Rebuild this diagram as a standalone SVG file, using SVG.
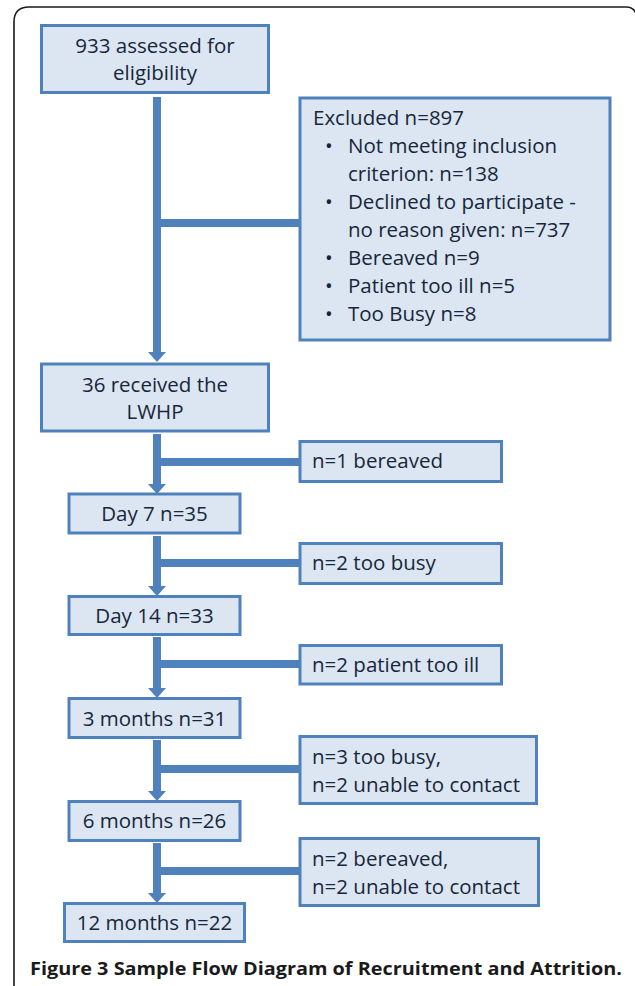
<svg xmlns="http://www.w3.org/2000/svg" width="635" height="986" viewBox="0 0 635 986">
<defs>
<style>
.box{fill:#DCE6F2;stroke:#4F81BD;stroke-width:3}
.t{font-family:"Open Sans","Liberation Sans",Arial,sans-serif;font-size:20.5px;fill:#17263A}
.c{text-anchor:middle}
.ln{stroke:#4F81BD;stroke-width:8;fill:none}
.cap{font-family:"Open Sans","Liberation Sans",Arial,sans-serif;font-size:18px;font-weight:bold;fill:#1a1a1a}
</style>
<marker id="ah" viewBox="0 0 10 18" refX="0" refY="9" markerWidth="10" markerHeight="18" orient="auto" markerUnits="userSpaceOnUse">
<path d="M0,0 L10,9 L0,18 z" fill="#4F81BD"/>
</marker>
</defs>
<rect width="635" height="986" fill="#ffffff"/>
<path d="M14,986 V22 Q14,7 29,7 H626 Q634,7 636,14" fill="none" stroke="#1a1a1a" stroke-width="1.6"/>

<g id="connectors">
<line class="ln" x1="157" y1="97" x2="157" y2="352" marker-end="url(#ah)"/>
<line class="ln" x1="157" y1="223" x2="299" y2="223"/>
<line class="ln" x1="157" y1="434" x2="157" y2="484" marker-end="url(#ah)"/>
<line class="ln" x1="157" y1="462" x2="299" y2="462"/>
<line class="ln" x1="157" y1="536" x2="157" y2="586" marker-end="url(#ah)"/>
<line class="ln" x1="157" y1="563" x2="299" y2="563"/>
<line class="ln" x1="157" y1="637" x2="157" y2="688" marker-end="url(#ah)"/>
<line class="ln" x1="157" y1="664" x2="299" y2="664"/>
<line class="ln" x1="157" y1="740" x2="157" y2="791" marker-end="url(#ah)"/>
<line class="ln" x1="157" y1="769" x2="299" y2="769"/>
<line class="ln" x1="157" y1="843" x2="157" y2="893" marker-end="url(#ah)"/>
<line class="ln" x1="157" y1="871" x2="299" y2="871"/>
</g>

<g id="assessed">
<rect class="box" x="41.5" y="25.5" width="227" height="67"/>
<text class="t c" x="155" y="53">933 assessed for</text>
<text class="t c" x="155" y="80">eligibility</text>
</g>

<g id="excluded">
<rect class="box" x="300" y="98" width="310" height="242"/>
<text class="t" x="313" y="125">Excluded n=897</text>
<text class="t" x="325" y="153">•</text>
<text class="t" x="348" y="153">Not meeting inclusion</text>
<text class="t" x="348" y="181">criterion: n=138</text>
<text class="t" x="325" y="209">•</text>
<text class="t" x="348" y="209">Declined to participate -</text>
<text class="t" x="348" y="237">no reason given: n=737</text>
<text class="t" x="325" y="265">•</text>
<text class="t" x="348" y="265">Bereaved n=9</text>
<text class="t" x="325" y="293">•</text>
<text class="t" x="348" y="293">Patient too ill n=5</text>
<text class="t" x="325" y="321">•</text>
<text class="t" x="348" y="321">Too Busy n=8</text>
</g>

<g id="received">
<rect class="box" x="41.5" y="364" width="227" height="67"/>
<text class="t c" x="155" y="392">36 received the</text>
<text class="t c" x="155" y="419">LWHP</text>
</g>

<g id="loss1">
<rect class="box" x="300" y="441.5" width="201.5" height="40"/>
<text class="t" x="312" y="468">n=1 bereaved</text>
</g>

<g id="day7">
<rect class="box" x="69" y="494" width="171" height="39"/>
<text class="t c" x="154.5" y="521">Day 7 n=35</text>
</g>

<g id="loss2">
<rect class="box" x="300" y="543.5" width="201.5" height="40"/>
<text class="t" x="312" y="570">n=2 too busy</text>
</g>

<g id="day14">
<rect class="box" x="69" y="596.5" width="171" height="38"/>
<text class="t c" x="154.5" y="623">Day 14 n=33</text>
</g>

<g id="loss3">
<rect class="box" x="300" y="645.5" width="201.5" height="38.5"/>
<text class="t" x="312" y="672">n=2 patient too ill</text>
</g>

<g id="month3">
<rect class="box" x="69" y="698.5" width="171" height="39"/>
<text class="t c" x="154.5" y="726">3 months n=31</text>
</g>

<g id="loss4">
<rect class="box" x="300" y="736.5" width="236.5" height="67"/>
<text class="t" x="312" y="764">n=3 too busy,</text>
<text class="t" x="312" y="792">n=2 unable to contact</text>
</g>

<g id="month6">
<rect class="box" x="69" y="801.5" width="171" height="39"/>
<text class="t c" x="154.5" y="828">6 months n=26</text>
</g>

<g id="loss5">
<rect class="box" x="300" y="838.5" width="238.5" height="67"/>
<text class="t" x="312" y="866">n=2 bereaved,</text>
<text class="t" x="312" y="894">n=2 unable to contact</text>
</g>

<g id="month12">
<rect class="box" x="64.5" y="903.5" width="180" height="38"/>
<text class="t c" x="154.5" y="930">12 months n=22</text>
</g>

<text class="cap" x="30" y="975" textLength="592" lengthAdjust="spacingAndGlyphs">Figure 3 Sample Flow Diagram of Recruitment and Attrition.</text>
</svg>
